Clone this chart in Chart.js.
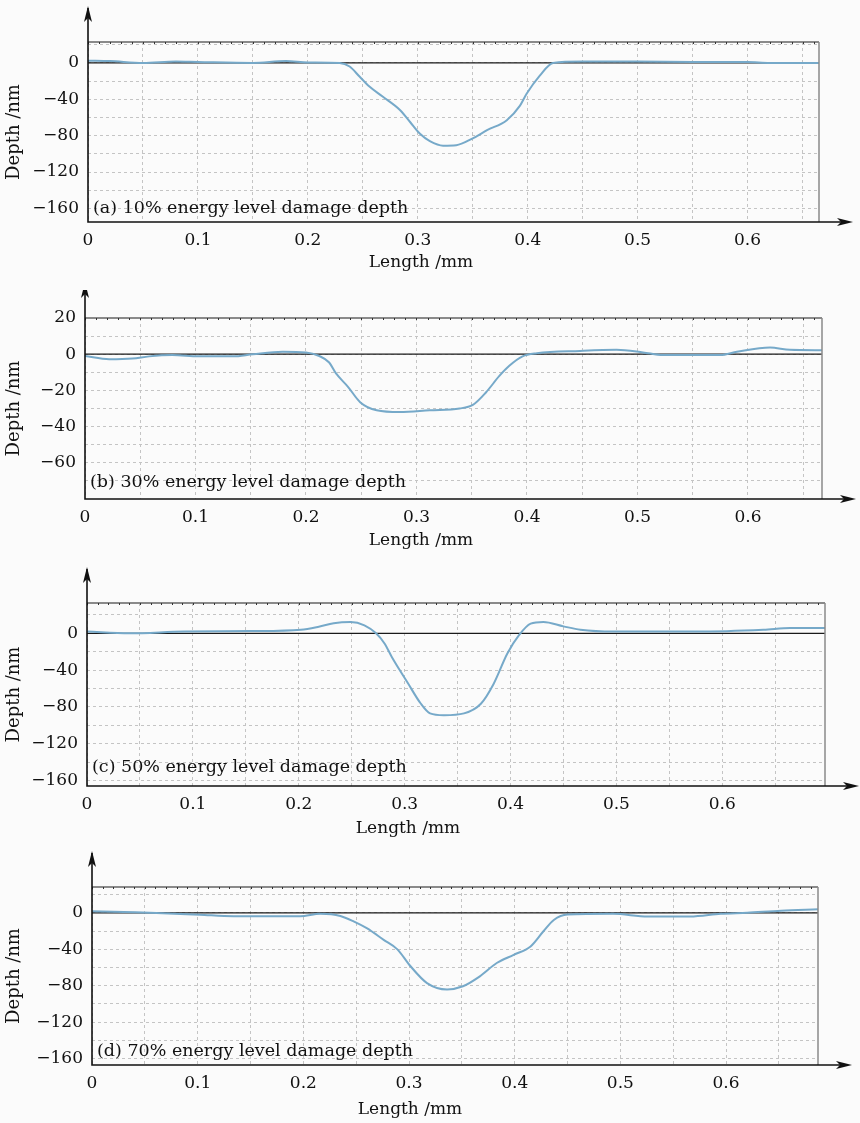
<!DOCTYPE html>
<html><head><meta charset="utf-8">
<script src="https://cdn.jsdelivr.net/npm/chart.js@4"></script>
<style>
html,body{margin:0;padding:0;background:#fbfbfb;width:860px;height:1123px;overflow:hidden;}
.p{position:absolute;left:0;width:860px;}
</style></head><body>
<div class="p" style="top:0;height:290px"><canvas id="cA"></canvas></div>
<div class="p" style="top:290px;height:270px"><canvas id="cB"></canvas></div>
<div class="p" style="top:560px;height:280px"><canvas id="cC"></canvas></div>
<div class="p" style="top:840px;height:283px"><canvas id="cD"></canvas></div>
<script>
// ---- data (Length /mm, Depth /nm) ----
const lengthA = [0, 0.02, 0.05, 0.08, 0.1, 0.15, 0.18, 0.2, 0.229, 0.238, 0.247, 0.256, 0.268, 0.284, 0.293, 0.302, 0.311, 0.323, 0.335, 0.35, 0.363, 0.381, 0.393, 0.399, 0.411, 0.423, 0.45, 0.5, 0.55, 0.6, 0.62, 0.665];
const depthA  = [2.5, 2, 0, 1.5, 1, 0, 2, 0.5, 0, -4, -15, -26, -37, -52, -65, -78, -86, -91, -90.5, -83, -74, -63, -47, -34, -14, 0, 1.5, 1.5, 1, 1, 0, 0];

const lengthB = [0, 0.022, 0.043, 0.058, 0.079, 0.103, 0.134, 0.152, 0.179, 0.2, 0.212, 0.221, 0.227, 0.238, 0.249, 0.264, 0.285, 0.312, 0.339, 0.351, 0.363, 0.375, 0.384, 0.396, 0.409, 0.448, 0.481, 0.505, 0.523, 0.554, 0.575, 0.59, 0.62, 0.638, 0.667];
const depthB  = [-1, -2.8, -2.4, -1.2, -0.5, -1.2, -1.2, 0, 1.3, 1, -1, -4.6, -10.5, -18, -26.5, -31, -32, -31, -30, -28, -21, -12, -6.4, -1.2, 0.5, 1.8, 2.4, 1, -0.5, -0.5, -0.5, 1.3, 3.7, 2.4, 2.2];

const lengthC = [0, 0.04, 0.092, 0.155, 0.202, 0.218, 0.233, 0.249, 0.262, 0.273, 0.281, 0.288, 0.303, 0.315, 0.324, 0.337, 0.356, 0.372, 0.384, 0.397, 0.408, 0.419, 0.431, 0.45, 0.466, 0.497, 0.576, 0.639, 0.664, 0.697];
const depthC  = [2, 0, 2, 2.5, 4, 7, 11, 12.3, 8.7, 0, -11, -26, -54, -76, -87, -89, -87, -76.5, -55, -22, -2, 10.5, 12.3, 7.6, 4, 2, 2, 4, 5.8, 5.8];

const lengthD = [0, 0.03, 0.061, 0.102, 0.134, 0.197, 0.216, 0.235, 0.248, 0.26, 0.276, 0.289, 0.301, 0.317, 0.336, 0.351, 0.367, 0.383, 0.399, 0.415, 0.427, 0.437, 0.45, 0.493, 0.526, 0.566, 0.595, 0.62, 0.652, 0.687];
const depthD  = [2, 1, 0, -2, -3.6, -3.6, -1, -3.3, -9.5, -16.7, -29.5, -40, -58, -77, -84, -80.5, -69.6, -55, -46, -36.8, -20.4, -7.7, -1.8, -1, -4, -4, -1, 0.3, 2.5, 4];

// ---- tick labels ----
const xTickLabels  = [0, 0.1, 0.2, 0.3, 0.4, 0.5, 0.6];
const yTickLabelsA = [0, -40, -80, -120, -160];
const yTickLabelsB = [20, 0, -20, -40, -60];
const yTickLabelsC = [0, -40, -80, -120, -160];
const yTickLabelsD = [0, -40, -80, -120, -160];
const captions = [
  '(a) 10% energy level damage depth',
  '(b) 30% energy level damage depth',
  '(c) 50% energy level damage depth',
  '(d) 70% energy level damage depth'
];
const xTitle = 'Length /mm';
const yTitle = 'Depth /nm';

const FONT = "'DejaVu Serif', 'Liberation Serif', serif";

const framePlugin = {
  id: 'frame',
  beforeDatasetsDraw(chart) {
    const {ctx, chartArea: a, scales: {y}} = chart;
    const y0 = y.getPixelForValue(0);
    ctx.save();
    ctx.strokeStyle = '#1a1a1a'; ctx.lineWidth = 1.2;
    ctx.beginPath(); ctx.moveTo(a.left, y0); ctx.lineTo(a.right, y0); ctx.stroke();
    ctx.restore();
  },
  afterDraw(chart, args, opts) {
    const {ctx, chartArea: a, scales: {x}} = chart;
    ctx.save();
    // top + right edges (gray)
    ctx.strokeStyle = '#8a8a8a'; ctx.lineWidth = 2;
    ctx.beginPath(); ctx.moveTo(a.left, a.top); ctx.lineTo(a.right, a.top); ctx.stroke();
    ctx.lineWidth = 1.5;
    ctx.beginPath(); ctx.moveTo(a.right, a.top); ctx.lineTo(a.right, a.bottom); ctx.stroke();
    // minor ticks along top
    ctx.strokeStyle = '#333'; ctx.lineWidth = 1;
    for (let v = 0; v <= x.max + 1e-9; v += 0.01) {
      const px = Math.round(x.getPixelForValue(v)) + 0.5;
      ctx.beginPath(); ctx.moveTo(px, a.top); ctx.lineTo(px, a.top + 2); ctx.stroke();
    }
    // left + bottom axes (black)
    ctx.strokeStyle = '#111'; ctx.lineWidth = 1.6;
    ctx.beginPath(); ctx.moveTo(a.left, a.top - 34); ctx.lineTo(a.left, a.bottom); ctx.lineTo(a.right + 30, a.bottom); ctx.stroke();
    // arrow heads
    ctx.fillStyle = '#111';
    ctx.beginPath(); ctx.moveTo(a.left, a.top - 36); ctx.lineTo(a.left - 4, a.top - 20); ctx.lineTo(a.left, a.top - 24); ctx.lineTo(a.left + 4, a.top - 20); ctx.closePath(); ctx.fill();
    ctx.beginPath(); ctx.moveTo(a.right + 34, a.bottom); ctx.lineTo(a.right + 18, a.bottom - 4); ctx.lineTo(a.right + 22, a.bottom); ctx.lineTo(a.right + 18, a.bottom + 4); ctx.closePath(); ctx.fill();
    // caption
    ctx.font = '17.5px ' + FONT; ctx.fillStyle = '#111'; ctx.textBaseline = 'middle'; ctx.textAlign = 'left';
    ctx.fillText(opts.caption, a.left + 5, a.bottom - opts.capOff);
    // x axis title
    ctx.font = '17px ' + FONT; ctx.textAlign = 'center';
    ctx.fillText(xTitle, opts.titleX, a.bottom + opts.titleDy);
    ctx.restore();
  }
};

const minus = v => (v < 0 ? '\u2212' + Math.abs(v) : String(v));

function makeChart(id, len, dep, p) {
  const pts = len.map((l, i) => ({x: l, y: dep[i]}));
  return new Chart(document.getElementById(id), {
    type: 'line',
    data: { datasets: [{ data: pts, borderColor: '#76a9c9', borderWidth: 2, pointRadius: 0, cubicInterpolationMode: 'monotone', fill: false }] },
    options: {
      responsive: true, maintainAspectRatio: false, animation: false,
      layout: { padding: { top: p.padTop, right: p.padRight, left: 0, bottom: 0 } },
      plugins: { legend: { display: false }, tooltip: { enabled: false },
        frame: { caption: p.caption, capOff: p.capOff, titleX: p.titleX, titleDy: p.titleDy } },
      scales: {
        x: {
          type: 'linear', min: 0, max: p.xMax,
          afterFit: s => { s.height = p.xH; },
          afterBuildTicks: s => { const t = []; for (let i = 0; i * 0.05 <= p.xMax + 1e-9; i++) t.push({value: +(i * 0.05).toFixed(2)}); s.ticks = t; },
          ticks: { autoSkip: false, maxRotation: 0, padding: 8, color: '#111', font: { family: FONT, size: 17 },
            callback: v => { const m = xTickLabels.find(t => Math.abs(t - v) < 1e-6); return m === undefined ? '' : String(m); } },
          grid: { color: '#c4c4c4', lineWidth: 1, drawTicks: false },
          border: { display: false, dash: [3, 3] },
          title: { display: false }
        },
        y: {
          type: 'linear', min: p.yMin, max: p.yMax,
          afterFit: s => { s.width = p.left; },
          afterBuildTicks: s => { const t = []; for (let v = p.yLow; v <= p.yMax + 1e-9; v += p.yStep) t.push({value: v}); s.ticks = t; },
          ticks: { autoSkip: false, padding: 9, color: '#111', font: { family: FONT, size: 17 },
            callback: v => (p.yLabels.includes(v) ? minus(v) : '') },
          grid: { color: '#c4c4c4', lineWidth: 1, drawTicks: false },
          border: { display: false, dash: [3, 3] },
          title: { display: true, text: yTitle, color: '#111', font: { family: FONT, size: 18 }, padding: { top: 4, bottom: 0 } }
        }
      }
    },
    plugins: [framePlugin]
  });
}

makeChart('cA', lengthA, depthA, { left: 88, padTop: 42, padRight: 41, xH: 68, titleX: 421, titleDy: 41, xMax: 0.665, yMin: -175, yMax: 23, yLow: -160, yStep: 20, yLabels: yTickLabelsA, caption: captions[0], capOff: 14 });
makeChart('cB', lengthB, depthB, { left: 85, padTop: 28, padRight: 38, xH: 61, titleX: 421, titleDy: 42, xMax: 0.667, yMin: -80, yMax: 20, yLow: -70, yStep: 10, yLabels: yTickLabelsB, caption: captions[1], capOff: 17 });
makeChart('cC', lengthC, depthC, { left: 87, padTop: 43, padRight: 35, xH: 54, titleX: 408, titleDy: 43, xMax: 0.697, yMin: -166, yMax: 33, yLow: -160, yStep: 20, yLabels: yTickLabelsC, caption: captions[2], capOff: 19 });
makeChart('cD', lengthD, depthD, { left: 92, padTop: 47, padRight: 42, xH: 58, titleX: 410, titleDy: 45, xMax: 0.687, yMin: -167, yMax: 28.5, yLow: -160, yStep: 20, yLabels: yTickLabelsD, caption: captions[3], capOff: 14 });
</script>
</body></html>
